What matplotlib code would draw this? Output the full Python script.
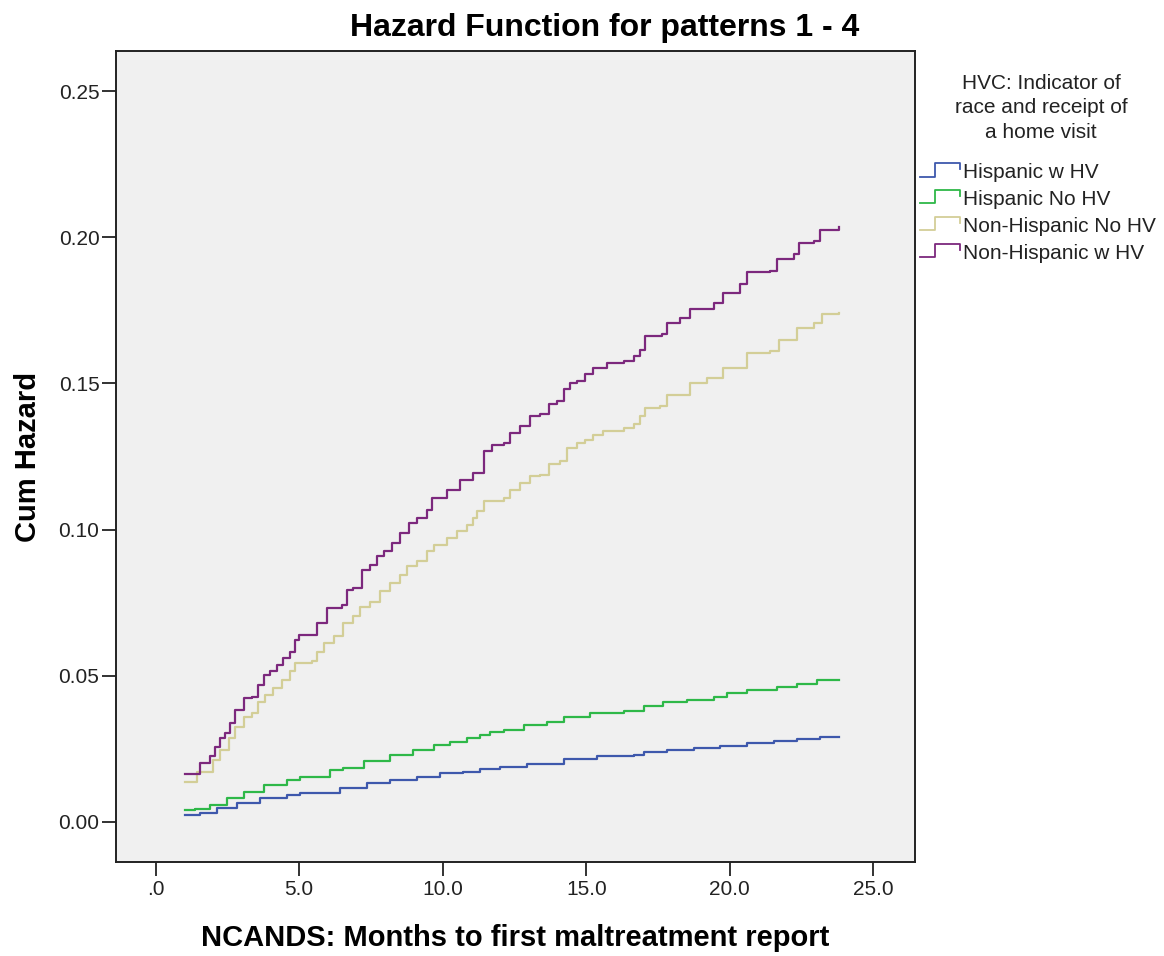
import numpy as np
import matplotlib
matplotlib.use("Agg")
import matplotlib.pyplot as plt
from matplotlib.lines import Line2D
from matplotlib.legend_handler import HandlerBase

plt.rcParams['font.family'] = ['Liberation Sans', 'DejaVu Sans']

# months / cumulative hazard (step functions)
labels = ['Hispanic w HV', 'Hispanic No HV', 'Non-Hispanic No HV', 'Non-Hispanic w HV']
colors = ['#3e58ac', '#2eb848', '#d3ce97', '#7c287d']

hisp_hv_x = [1.03, 1.55, 2.13, 2.83, 3.64, 4.57, 5.03, 6.43, 7.36, 8.17, 9.10, 9.91, 10.72,
             11.31, 12.00, 12.93, 14.21, 15.37, 16.65, 17.00, 17.81, 18.74, 19.67, 20.60,
             21.53, 22.34, 23.15, 23.79]
hisp_hv_y = [0.0024, 0.0030, 0.0047, 0.0064, 0.0081, 0.0092, 0.0098, 0.0115, 0.0132, 0.0144,
             0.0155, 0.0167, 0.0172, 0.0180, 0.0187, 0.0199, 0.0217, 0.0224, 0.0230, 0.0241,
             0.0247, 0.0252, 0.0260, 0.0270, 0.0277, 0.0283, 0.0290, 0.0290]

hisp_no_x = [1.03, 1.38, 1.90, 2.48, 3.06, 3.76, 4.57, 5.03, 6.08, 6.54, 7.24, 8.17, 8.98,
             9.68, 10.26, 10.84, 11.31, 11.65, 12.12, 12.82, 13.63, 14.21, 15.14, 16.30,
             17.00, 17.69, 18.51, 19.44, 19.90, 20.60, 21.64, 22.34, 23.04, 23.79]
hisp_no_y = [0.0041, 0.0045, 0.0058, 0.0081, 0.0104, 0.0127, 0.0144, 0.0155, 0.0178, 0.0184,
             0.0207, 0.0229, 0.0247, 0.0264, 0.0275, 0.0287, 0.0298, 0.0309, 0.0313, 0.0330,
             0.0343, 0.0358, 0.0374, 0.0378, 0.0397, 0.0410, 0.0418, 0.0427, 0.0441, 0.0450,
             0.0463, 0.0473, 0.0484, 0.0484]

nonhisp_no_x = [1.03, 1.44, 2.01, 2.25, 2.54, 2.77, 3.06, 3.35, 3.58, 3.82, 4.10, 4.40, 4.69,
                4.86, 5.44, 5.62, 5.85, 6.20, 6.54, 6.89, 7.13, 7.47, 7.82, 8.17, 8.52, 8.75,
                9.10, 9.45, 9.68, 10.15, 10.49, 10.84, 11.07, 11.19, 11.42, 12.12, 12.35, 12.70,
                13.05, 13.40, 13.69, 14.10, 14.33, 14.68, 14.97, 15.25, 15.60, 16.30, 16.65,
                16.88, 17.06, 17.58, 17.81, 18.62, 19.20, 19.78, 20.60, 21.41, 21.70, 22.34,
                22.92, 23.21, 23.79]
nonhisp_no_y = [0.0138, 0.0170, 0.0212, 0.0247, 0.0287, 0.0326, 0.0360, 0.0372, 0.0412, 0.0435,
                0.0458, 0.0486, 0.0515, 0.0543, 0.0549, 0.0583, 0.0612, 0.0635, 0.0680, 0.0703,
                0.0737, 0.0754, 0.0789, 0.0817, 0.0846, 0.0874, 0.0891, 0.0926, 0.0949, 0.0972,
                0.0994, 0.1017, 0.1040, 0.1063, 0.1097, 0.1108, 0.1137, 0.1160, 0.1183, 0.1188,
                0.1223, 0.1234, 0.1280, 0.1297, 0.1308, 0.1325, 0.1337, 0.1348, 0.1360, 0.1388,
                0.1417, 0.1422, 0.1462, 0.1500, 0.1520, 0.1553, 0.1605, 0.1610, 0.1648, 0.1690,
                0.1708, 0.1736, 0.1742]

nonhisp_hv_x = [1.03, 1.55, 1.90, 2.07, 2.25, 2.42, 2.60, 2.77, 3.06, 3.35, 3.58, 3.76, 3.99,
                4.22, 4.45, 4.69, 4.86, 4.98, 5.62, 5.96, 6.49, 6.66, 6.89, 7.18, 7.47, 7.71,
                7.94, 8.23, 8.52, 8.81, 9.10, 9.45, 9.62, 10.15, 10.61, 11.07, 11.42, 11.71,
                12.12, 12.35, 12.70, 13.05, 13.40, 13.69, 13.98, 14.21, 14.44, 14.68, 14.97,
                15.25, 15.72, 16.30, 16.65, 16.88, 17.06, 17.64, 17.81, 18.28, 18.62, 19.44,
                19.78, 20.37, 20.60, 21.41, 21.64, 22.22, 22.40, 22.92, 23.15, 23.79]
nonhisp_hv_y = [0.0163, 0.0201, 0.0224, 0.0258, 0.0287, 0.0304, 0.0338, 0.0384, 0.0424, 0.0429,
                0.0469, 0.0503, 0.0515, 0.0538, 0.0561, 0.0583, 0.0623, 0.0640, 0.0680, 0.0732,
                0.0743, 0.0795, 0.0800, 0.0863, 0.0880, 0.0909, 0.0926, 0.0954, 0.0989, 0.1023,
                0.1040, 0.1068, 0.1108, 0.1137, 0.1171, 0.1194, 0.1268, 0.1291, 0.1297, 0.1331,
                0.1354, 0.1388, 0.1394, 0.1428, 0.1440, 0.1480, 0.1502, 0.1508, 0.1531, 0.1554,
                0.1571, 0.1576, 0.1594, 0.1616, 0.1662, 0.1668, 0.1708, 0.1724, 0.1753, 0.1776,
                0.1810, 0.1839, 0.1881, 0.1885, 0.1927, 0.1942, 0.1982, 0.1987, 0.2025, 0.2036]

series = [(hisp_hv_x, hisp_hv_y), (hisp_no_x, hisp_no_y),
          (nonhisp_no_x, nonhisp_no_y), (nonhisp_hv_x, nonhisp_hv_y)]

xticks = [0, 5, 10, 15, 20, 25]
xtick_labels = ['.0', '5.0', '10.0', '15.0', '20.0', '25.0']
yticks = [0.0, 0.05, 0.10, 0.15, 0.20, 0.25]
ytick_labels = ['0.00', '0.05', '0.10', '0.15', '0.20', '0.25']


class StepHandler(HandlerBase):
    # little step glyph like the SPSS legend
    def create_artists(self, legend, orig_handle, xdescent, ydescent, width, height, fontsize, trans):
        xs = np.array([0, 0.38, 0.38, 1.0, 1.0]) * width - xdescent
        ys = np.array([0.1, 0.1, 1.0, 1.0, 0.6]) * height - ydescent
        ln = Line2D(xs, ys, color=orig_handle.get_color(), lw=1.3)
        ln.set_transform(trans)
        return [ln]


fig = plt.figure(figsize=(11.64, 9.56), dpi=100)
ax = fig.add_axes([0.0997, 0.0983, 0.6866, 0.8483])
ax.set_facecolor('#f0f0f0')

handles = []
for (xs, ys), c, lab in zip(series, colors, labels):
    h, = ax.plot(xs, ys, drawstyle='steps-post', color=c, lw=1.6, label=lab)
    handles.append(h)

ax.set_xlim(-1.38, 26.46)
ax.set_ylim(-0.0137, 0.2637)
ax.set_xticks(xticks)
ax.set_xticklabels(xtick_labels)
ax.set_yticks(yticks)
ax.set_yticklabels(ytick_labels)
ax.tick_params(axis='both', direction='out', length=10, width=1.3, color='#222222',
               labelsize=15, labelcolor='#222222')
ax.tick_params(axis='x', pad=3)
ax.tick_params(axis='y', pad=2)
for sp in ax.spines.values():
    sp.set_linewidth(1.4)
    sp.set_color('#222222')

ax.set_xlabel('NCANDS: Months to first maltreatment report', fontsize=21, fontweight='bold')
ax.xaxis.set_label_coords(0.5, -0.077)
ax.set_ylabel('Cum Hazard', fontsize=21, fontweight='bold', labelpad=12)

fig.text(605 / 1164, 1 - 36 / 956, 'Hazard Function for patterns 1 - 4',
         fontsize=23, fontweight='bold', ha='center', va='baseline')

# legend heading (baseline of its last line)
fig.text(1041 / 1164, 1 - 138 / 956, 'HVC: Indicator of\nrace and receipt of\na home visit',
         fontsize=15, ha='center', va='baseline', multialignment='center', color='#222222',
         linespacing=1.38)

leg = fig.legend(handles=handles, labels=labels, loc='upper left',
                 bbox_to_anchor=(920 / 1164, 1 - 163 / 956), bbox_transform=fig.transFigure,
                 frameon=False, fontsize=15, handlelength=1.9, handletextpad=0.15,
                 labelspacing=0.38, borderpad=0, borderaxespad=0,
                 handler_map={Line2D: StepHandler()})
for t in leg.get_texts():
    t.set_color('#222222')

fig.savefig('out.png', dpi=100)
